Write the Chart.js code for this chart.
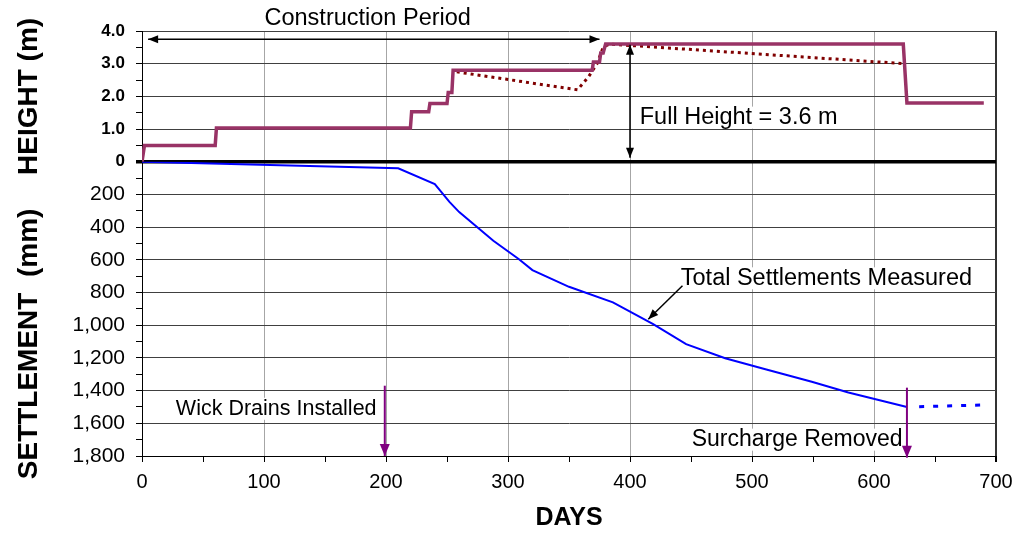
<!DOCTYPE html>
<html>
<head>
<meta charset="utf-8">
<script src="https://cdn.jsdelivr.net/npm/chart.js@4.4.1/dist/chart.umd.min.js"></script>
<style>
  body { margin: 0; background: #fff; }
  #wrap { width: 1018px; height: 533px; }
</style>
</head>
<body>
<div id="wrap"><canvas id="chart" width="1018" height="533"></canvas></div>
<script>
// fill height (m) against days
const heightDays = [0, 2, 60, 61, 220, 221, 235, 236, 250, 251, 254, 255, 369, 370, 375, 376, 378, 380, 624, 627, 690];
const heightM    = [0, 0.5, 0.5, 1.03, 1.03, 1.53, 1.53, 1.78, 1.78, 2.12, 2.12, 2.8, 2.8, 3.05, 3.05, 3.33, 3.33, 3.6, 3.6, 1.8, 1.8];

// dotted line under the fill
const dotDays = [258, 357, 366, 373, 378, 383, 625];
const dotM    = [2.75, 2.2, 2.6, 3.0, 3.5, 3.6, 3.0];

// total settlements measured (mm)
const settleDays = [0, 210, 240, 252, 260, 288, 309, 320, 350, 386, 419, 446, 478, 511, 549, 579, 627];
const settleMm   = [0, 40, 137, 245, 308, 483, 596, 663, 765, 860, 993, 1116, 1202, 1269, 1346, 1412, 1500];

// after surcharge removed
const afterDays = [637, 689];
const afterMm   = [1498, 1488];

const heightLabels = {4: '4.0', 3: '3.0', 2: '2.0', 1: '1.0', 0: '0'};

const FONT = '"Liberation Sans", Arial, sans-serif';
const pts = (xs, ys) => xs.map((d, i) => ({x: d, y: ys[i]}));

function head(ctx, xa, ya, xb, yb, len, half) {
  const a = Math.atan2(yb - ya, xb - xa);
  ctx.beginPath();
  ctx.moveTo(xb, yb);
  ctx.lineTo(xb - len * Math.cos(a) + half * Math.sin(a), yb - len * Math.sin(a) - half * Math.cos(a));
  ctx.lineTo(xb - len * Math.cos(a) - half * Math.sin(a), yb - len * Math.sin(a) + half * Math.cos(a));
  ctx.closePath();
  ctx.fill();
}

function arrow(ctx, x1, y1, x2, y2, color, w, len, half, both) {
  ctx.strokeStyle = color;
  ctx.fillStyle = color;
  ctx.lineWidth = w;
  ctx.beginPath();
  ctx.moveTo(x1, y1);
  ctx.lineTo(x2, y2);
  ctx.stroke();
  head(ctx, x1, y1, x2, y2, len, half);
  if (both) head(ctx, x2, y2, x1, y1, len, half);
}

function label(ctx, text, x, y, align, size, bg) {
  ctx.font = size + 'px ' + FONT;
  ctx.textAlign = align;
  ctx.textBaseline = 'middle';
  if (bg) {
    const w = ctx.measureText(text).width;
    const left = align === 'left' ? x : x - w / 2;
    ctx.fillStyle = '#fff';
    ctx.fillRect(left - 1, y - 11, w + 2, 22);
  }
  ctx.fillStyle = '#000';
  ctx.fillText(text, x, y);
}

const notes = {
  id: 'notes',
  afterDatasetsDraw(chart) {
    const ctx = chart.ctx;
    const X = d => chart.scales.x.getPixelForValue(d);
    const H = v => chart.scales.yh.getPixelForValue(v);
    const S = v => chart.scales.ys.getPixelForValue(v);
    ctx.save();
    label(ctx, 'Construction Period', X(185), H(4.37), 'center', 23.5, false);
    label(ctx, 'Full Height = 3.6 m', X(408), H(1.35), 'left', 23.5, true);
    label(ctx, 'Total Settlements Measured', X(561), S(713), 'center', 23.5, true);
    label(ctx, 'Wick Drains Installed', X(110), S(1511), 'center', 21.5, true);
    label(ctx, 'Surcharge Removed', X(537), S(1700), 'center', 23, true);
    arrow(ctx, X(5), H(3.75), X(375), H(3.75), '#000', 1.5, 10, 4, true);
    arrow(ctx, X(400), H(3.58), X(400), H(0.12), '#000', 1.5, 10, 4, true);
    arrow(ctx, X(443), S(759), X(415), S(963), '#000', 1.5, 10, 4, false);
    arrow(ctx, X(199), S(1370), X(199), S(1800), '#800080', 2, 12, 5, false);
    arrow(ctx, X(627), S(1382), X(627), S(1810), '#800080', 2, 12, 5, false);
    ctx.restore();
  }
};

new Chart(document.getElementById('chart'), {
  type: 'line',
  data: {
    datasets: [
      {data: pts(heightDays, heightM), yAxisID: 'yh', borderColor: '#993366', borderWidth: 3.5, pointRadius: 0},
      {data: pts(dotDays, dotM), yAxisID: 'yh', borderColor: '#800000', borderWidth: 3, borderDash: [3, 4], pointRadius: 0},
      {data: pts(settleDays, settleMm), yAxisID: 'ys', borderColor: '#0000ff', borderWidth: 2, pointRadius: 0},
      {data: pts(afterDays, afterMm), yAxisID: 'ys', borderColor: '#0000ff', borderWidth: 3, borderDash: [5, 9], pointRadius: 0}
    ]
  },
  options: {
    responsive: false,
    animation: false,
    layout: {padding: {left: 0, top: 31, right: 22, bottom: 0}},
    plugins: {legend: {display: false}, tooltip: {enabled: false}},
    scales: {
      x: {
        type: 'linear', min: 0, max: 700,
        afterFit: s => { s.height = 77; s.paddingLeft = 0; s.paddingRight = 0; },
        border: {color: '#000', width: 1},
        grid: {
          color: c => c.tick.value === 700 ? '#333' : (c.tick.value % 100 === 0 && c.tick.value > 0 ? '#a6a6a6' : 'rgba(0,0,0,0)'),
          lineWidth: c => c.tick.value === 700 ? 2 : 1,
          tickColor: '#000', tickLength: 6
        },
        ticks: {
          stepSize: 50, autoSkip: false, maxRotation: 0, padding: 8, color: '#000',
          font: {family: FONT, size: 20},
          callback: v => v % 100 === 0 ? String(v) : ''
        },
        title: {display: true, text: 'DAYS', color: '#000', padding: {top: 0, bottom: 0},
          font: {family: FONT, size: 25, weight: 'bold'}}
      },
      ys: {
        type: 'linear', position: 'left', stack: 'left', stackWeight: 9,
        reverse: true, min: 0, max: 1800,
        afterFit: s => { s.width = 142; },
        border: {color: '#000'},
        grid: {
          color: c => c.tick.value % 200 === 0 && c.tick.value > 0 ? '#404040' : 'rgba(0,0,0,0)',
          tickColor: '#000', tickLength: 6
        },
        ticks: {
          stepSize: 100, autoSkip: false, padding: 11, color: '#000',
          font: {family: FONT, size: 21},
          callback: v => v % 200 === 0 && v > 0 ? v.toLocaleString('en-US') : ''
        },
        title: {display: true, text: 'SETTLEMENT  (mm)         ', color: '#000', padding: {top: 12, bottom: 0},
          font: {family: FONT, size: 28, weight: 'bold'}}
      },
      yh: {
        type: 'linear', position: 'left', stack: 'left', stackWeight: 4,
        min: 0, max: 4,
        afterFit: s => { s.width = 142; },
        border: {color: '#000'},
        grid: {
          color: c => c.tick.value === 0 ? '#000' : (c.tick.value % 1 === 0 ? '#404040' : 'rgba(0,0,0,0)'),
          lineWidth: c => c.tick.value === 0 ? 3.5 : 1,
          tickColor: '#000', tickLength: 6
        },
        ticks: {
          stepSize: 0.5, autoSkip: false, padding: 11, color: '#000',
          font: {family: FONT, size: 17, weight: 'bold'},
          callback: v => heightLabels[v] ?? ''
        },
        title: {display: true, text: 'HEIGHT (m)', color: '#000', padding: {top: 12, bottom: 0},
          font: {family: FONT, size: 28, weight: 'bold'}}
      }
    }
  },
  plugins: [notes]
});
</script>
</body>
</html>
